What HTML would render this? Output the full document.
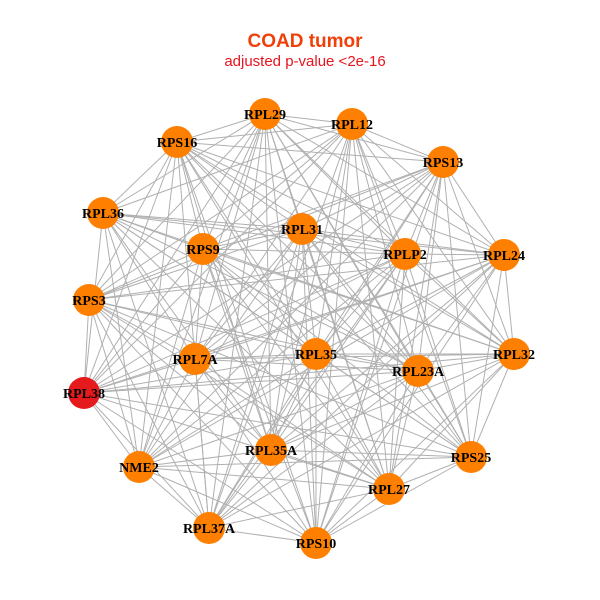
<!DOCTYPE html>
<html><head><style>
html,body{margin:0;padding:0;background:#fff;width:600px;height:600px;overflow:hidden}
</style></head><body>
<svg id="g" width="600" height="600" xmlns="http://www.w3.org/2000/svg">
<text x="305" y="47" text-anchor="middle" font-family="Liberation Sans, sans-serif" font-weight="bold" font-size="19" fill="#f0400a">COAD tumor</text>
<text x="305" y="66" text-anchor="middle" font-family="Liberation Sans, sans-serif" font-size="15" fill="#e8141e">adjusted p-value &lt;2e-16</text>
<g id="edges" stroke="#b0b0b0" stroke-width="1"></g>
<g id="nodes"></g>
</svg>
<script>
var N=[["RPL29",265,114],["RPL12",352,124],["RPS16",177,142],["RPS13",443,162],["RPL36",103,213],["RPL31",302,229],["RPS9",203,249],["RPLP2",405,254],["RPL24",504,255],["RPS3",89,300],["RPL7A",195,359],["RPL35",316,354],["RPL32",514,354],["RPL23A",418,371],["RPL38",84,393],["RPL35A",271,450],["NME2",139,467],["RPS25",471,457],["RPL27",389,489],["RPL37A",209,528],["RPS10",316,543]];
var ns="http://www.w3.org/2000/svg",E=document.getElementById("edges"),G=document.getElementById("nodes");
for(var i=0;i<N.length;i++)for(var j=i+1;j<N.length;j++){
 if((i*7+j*3)%11==0)continue;
 var l=document.createElementNS(ns,"line");
 l.setAttribute("x1",N[i][1]);l.setAttribute("y1",N[i][2]);l.setAttribute("x2",N[j][1]);l.setAttribute("y2",N[j][2]);E.appendChild(l);}
N.forEach(function(n){
 var c=document.createElementNS(ns,"circle");c.setAttribute("cx",n[1]);c.setAttribute("cy",n[2]);c.setAttribute("r",16);
 c.setAttribute("fill",n[0]=="RPL38"?"#e41a1c":"#ff8000");G.appendChild(c);
 var t=document.createElementNS(ns,"text");t.setAttribute("x",n[1]);t.setAttribute("y",n[2]+5);t.setAttribute("text-anchor","middle");
 t.setAttribute("font-family","Liberation Serif, serif");t.setAttribute("font-weight","bold");t.setAttribute("font-size","14");t.textContent=n[0];G.appendChild(t);});
</script>
</body></html>
